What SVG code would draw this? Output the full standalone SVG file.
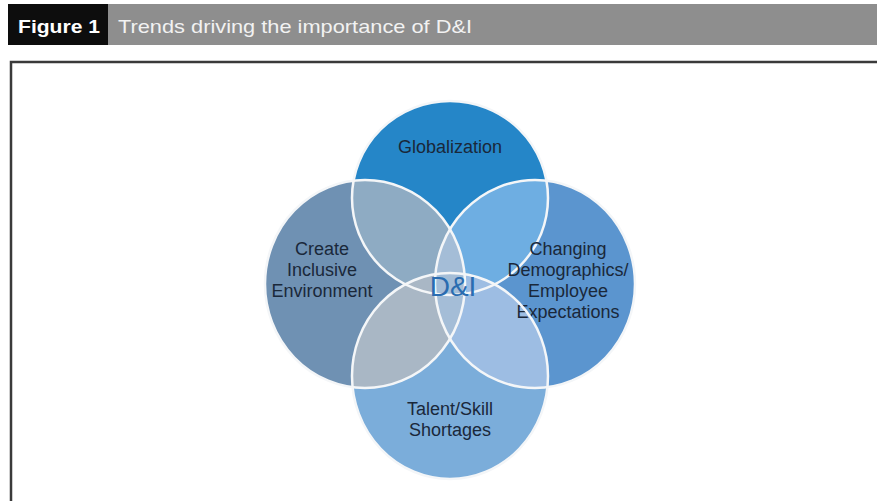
<svg xmlns="http://www.w3.org/2000/svg" width="877" height="501" viewBox="0 0 877 501">
<style>
.lbl{font-family:"Liberation Sans",Arial,sans-serif;font-size:18px;fill:#1a283a;text-anchor:middle}
.ring{fill:none;stroke:#f4f6f8;stroke-width:2.5}
</style>
<defs>
<clipPath id="cT"><ellipse cx="450" cy="198" rx="98" ry="97"/></clipPath>
<clipPath id="cL"><ellipse cx="365" cy="284" rx="100" ry="104"/></clipPath>
<clipPath id="cR"><ellipse cx="535" cy="284" rx="100" ry="104"/></clipPath>
<clipPath id="cB"><ellipse cx="450" cy="376" rx="98" ry="103"/></clipPath>
</defs>
<rect width="877" height="501" fill="#ffffff"/>
<g id="header">
<rect x="108" y="4" width="769" height="41" fill="#8e8e8e"/>
<rect x="8" y="4" width="100" height="41" fill="#0d0d0d"/>
<text x="18" y="33" font-family="Liberation Sans,Arial,sans-serif" font-weight="bold" font-size="19" fill="#ffffff" textLength="82" lengthAdjust="spacingAndGlyphs">Figure 1</text>
<text x="118" y="33" font-family="Liberation Sans,Arial,sans-serif" font-size="19" fill="#f2f2f2" textLength="354" lengthAdjust="spacingAndGlyphs">Trends driving the importance of D&amp;I</text>
</g>
<path d="M11 501 V62 H877" fill="none" stroke="#3a3a3a" stroke-width="2.5"/>
<g id="fills">
<ellipse cx="365" cy="284" rx="100" ry="104" fill="#6f91b3"/>
<ellipse cx="535" cy="284" rx="100" ry="104" fill="#5b95cf"/>
<ellipse cx="450" cy="198" rx="98" ry="97" fill="#2586c8"/>
<ellipse cx="450" cy="376" rx="98" ry="103" fill="#7badda"/>
<ellipse cx="450" cy="198" rx="98" ry="97" fill="#8eabc3" clip-path="url(#cL)"/>
<ellipse cx="450" cy="198" rx="98" ry="97" fill="#6eaee2" clip-path="url(#cR)"/>
<ellipse cx="450" cy="376" rx="98" ry="103" fill="#a9b7c5" clip-path="url(#cL)"/>
<ellipse cx="450" cy="376" rx="98" ry="103" fill="#9dbde3" clip-path="url(#cR)"/>
<ellipse cx="365" cy="284" rx="100" ry="104" fill="#a4bdd7" clip-path="url(#cR)"/>
</g>
<g id="globalization">
<ellipse class="ring" cx="450" cy="198" rx="98" ry="97"/>
<text class="lbl" x="450" y="153">Globalization</text>
</g>
<g id="inclusive">
<ellipse class="ring" cx="365" cy="284" rx="100" ry="104"/>
<text class="lbl" x="322" y="255">Create</text>
<text class="lbl" x="322" y="276">Inclusive</text>
<text class="lbl" x="322" y="297">Environment</text>
</g>
<g id="demographics">
<ellipse class="ring" cx="535" cy="284" rx="100" ry="104"/>
<text class="lbl" x="568" y="255">Changing</text>
<text class="lbl" x="568" y="276">Demographics/</text>
<text class="lbl" x="568" y="297">Employee</text>
<text class="lbl" x="568" y="318">Expectations</text>
</g>
<g id="talent">
<ellipse class="ring" cx="450" cy="376" rx="98" ry="103"/>
<text class="lbl" x="450" y="415">Talent/Skill</text>
<text class="lbl" x="450" y="436">Shortages</text>
</g>
<g id="center">
<text x="453" y="296" font-family="Liberation Sans,Arial,sans-serif" font-size="28" fill="#2a6cb0" text-anchor="middle">D&amp;I</text>
</g>
</svg>
